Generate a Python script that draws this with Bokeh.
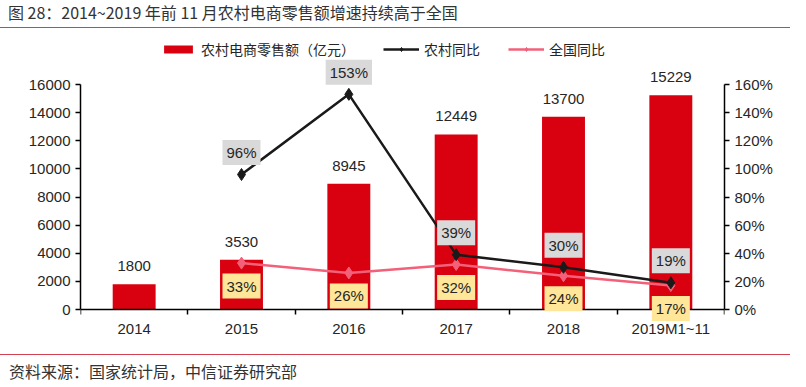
from bokeh.plotting import figure
from bokeh.layouts import column
from bokeh.models import (Range1d, LinearAxis, FixedTicker, ColumnDataSource, LabelSet,
                          Label, Legend, LegendItem, Div)
from bokeh.core.properties import value
from bokeh.embed import file_html
from bokeh.resources import INLINE

# ---- data ----
years = ["2014", "2015", "2016", "2017", "2018", "2019M1~11"]
retail = [1800, 3530, 8945, 12449, 13700, 15229]
rural_yoy = [None, 96, 153, 39, 30, 19]
national_yoy = [None, 33, 26, 32, 24, 17]
left_ticks = [0, 2000, 4000, 6000, 8000, 10000, 12000, 14000, 16000]
right_ticks = [0, 20, 40, 60, 80, 100, 120, 140, 160]

title_text = "图 28：2014~2019 年前 11 月农村电商零售额增速持续高于全国"
source_text = "资料来源：国家统计局，中信证券研究部"

FONT = "Liberation Sans"
CJK = "Noto Sans CJK SC"
TXT = "#262626"
RED = "#D9000F"
PINK = "#F26179"
RULE = "#D04050"

W = 790
TOP_H = 28                 # title strip
ML, MR, MT, MB = 80, 66, 2, 0
FRAME_W = W - ML - MR      # 644
FRAME_H = 310
AX_PX = 225                # pixels from 0 to 16000 / 160%
BELOW = 31                 # frame pixels below the zero line
ABOVE = FRAME_H - BELOW
y0, y1 = -16000 * BELOW / AX_PX, 16000 * ABOVE / AX_PX
p0, p1 = -160 * BELOW / AX_PX, 160 * ABOVE / AX_PX

xs = [i + 0.5 for i in range(len(years))]
p = figure(frame_width=FRAME_W, frame_height=FRAME_H, output_backend="svg",
           toolbar_location=None, x_range=Range1d(0, len(years)), y_range=Range1d(y0, y1),
           min_border_left=ML, min_border_right=MR, min_border_top=MT, min_border_bottom=MB,
           margin=0)
p.outline_line_color = None
p.grid.visible = False
p.extra_y_ranges = {"pct": Range1d(p0, p1)}

bar_src = ColumnDataSource(dict(x=xs, y=retail, lab=[str(v) for v in retail]))
bars = p.vbar(x="x", top="y", width=0.4, source=bar_src, fill_color=RED, line_color=None)

lx = [xs[i] for i in range(len(years)) if rural_yoy[i] is not None]
ry = [v for v in rural_yoy if v is not None]
ny = [v for v in national_yoy if v is not None]
line_src = ColumnDataSource(dict(x=lx, r=ry, n=ny))

nl = p.line("x", "n", source=line_src, y_range_name="pct", line_color=PINK, line_width=2.5)
ns = p.scatter("x", "n", source=line_src, y_range_name="pct", marker="diamond", size=12,
               fill_color=PINK, line_color=PINK)
rl = p.line("x", "r", source=line_src, y_range_name="pct", line_color="#1a1a1a", line_width=2.5)
rs = p.scatter("x", "r", source=line_src, y_range_name="pct", marker="diamond", size=12,
               fill_color="#1a1a1a", line_color="#1a1a1a")

p.add_layout(LabelSet(x="x", y="y", text="lab", source=bar_src, text_align="center",
                      text_baseline="middle", y_offset=18, text_font=value(FONT),
                      text_font_size=value("15px"), text_color=TXT))

# axes
xa = p.xaxis[0]
xa.fixed_location = 0
xa.ticker = FixedTicker(ticks=xs, minor_ticks=list(range(len(years) + 1)))
xa.major_label_overrides = {x: y for x, y in zip(xs, years)}
xa.minor_tick_in = 0
xa.minor_tick_out = 5
xa.minor_tick_line_color = "black"
xa.minor_tick_line_width = 1.5

ya = p.yaxis[0]
ya.ticker = FixedTicker(ticks=left_ticks)
ya.bounds = (0, 16000)
ya.minor_tick_line_color = None

ra = LinearAxis(y_range_name="pct", ticker=FixedTicker(ticks=right_ticks), bounds=(0, 160))
ra.major_label_overrides = {v: f"{v}%" for v in right_ticks}
ra.minor_tick_line_color = None
p.add_layout(ra, "right")

for ax in (xa, ya, ra):
    ax.axis_line_color = "black"
    ax.axis_line_width = 1.5
    ax.major_tick_in = 0
    ax.major_tick_out = 5
    ax.major_tick_line_width = 1.5
    ax.major_label_text_font = FONT
    ax.major_label_text_font_size = "15px"
    ax.major_label_text_color = TXT
    ax.major_label_standoff = 5
xa.major_tick_line_color = None

# percentage labels, drawn above the axes
for x, r, n in zip(lx, ry, ny):
    p.add_layout(Label(x=x, y=r, text=f"{r}%", y_range_name="pct",
                       text_align="center", text_baseline="middle", y_offset=22,
                       text_font=FONT, text_font_size="15px", text_color=TXT,
                       background_fill_color="#D9D9D9", padding=4))
    p.add_layout(Label(x=x, y=n, text=f"{n}%", y_range_name="pct",
                       text_align="center", text_baseline="middle", y_offset=-23,
                       text_font=FONT, text_font_size="15px", text_color=TXT,
                       background_fill_color="#FFE699", padding=4))

# legend (inside the extended frame, above the axes' extent)
legend = Legend(items=[
    LegendItem(label="农村电商零售额（亿元）", renderers=[bars]),
    LegendItem(label="农村同比", renderers=[rl, rs]),
    LegendItem(label="全国同比", renderers=[nl, ns]),
], orientation="horizontal", location=(80, FRAME_H - 29), border_line_color=None,
    background_fill_alpha=0, label_text_font=CJK, label_text_font_size="14px",
    label_text_color=TXT, glyph_width=36, glyph_height=10, spacing=28,
    label_standoff=5, padding=0, margin=0, label_height=18)
p.add_layout(legend)

title_div = Div(text=title_text, width=W, height=TOP_H, margin=0,
                styles={"font-family": CJK, "font-size": "16px", "color": "#333333",
                        "line-height": "20px", "padding-left": "8px", "padding-top": "2px",
                        "border-bottom": f"1.5px solid {RULE}", "box-sizing": "border-box"})
src_div = Div(text=source_text, width=W, height=31, margin=(14, 0, 0, 0),
              styles={"font-family": CJK, "font-size": "16px", "color": "#333333",
                      "line-height": "20px", "padding-left": "9px", "padding-top": "6px",
                      "border-top": f"1.5px solid {RULE}", "box-sizing": "border-box"})

layout = column(title_div, p, src_div, spacing=0, margin=0)
open("out.html", "w").write(file_html(layout, INLINE))
